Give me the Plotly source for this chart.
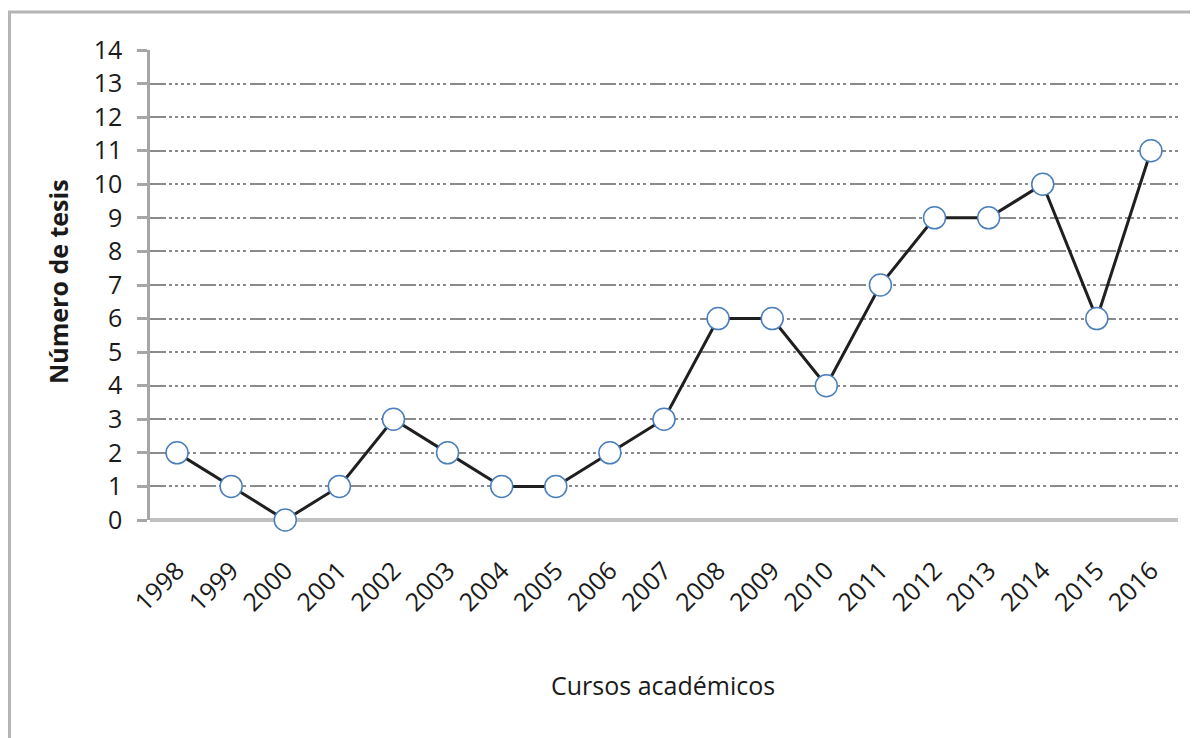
import plotly.graph_objects as go

# Cursos académicos y número de tesis
years = [str(y) for y in range(1998, 2017)]
tesis = [2, 1, 0, 1, 3, 2, 1, 1, 2, 3, 6, 6, 4, 7, 9, 9, 10, 6, 11]
y_ticks = list(range(0, 15))

FONT = "Open Sans, Liberation Sans, sans-serif"
INK = "#1a1a1a"

fig = go.Figure()
fig.add_trace(go.Scatter(
    x=years, y=tesis,
    mode="lines+markers",
    line=dict(color="#1f1f1f", width=3),
    marker=dict(symbol="circle", size=22, color="white",
                line=dict(color="#4a7ebb", width=1.5)),
    showlegend=False,
    cliponaxis=False,
))

# page has 8px body margin; plot area on screen: x 150..1178, y 50..520
L, R, T, B = 142, 20, 42, 218
W, H = 1190, 730
pw, ph = W - L - R, H - T - B

def px(sx):
    return (sx - 8 - L) / pw

def py(sy):
    return (H - B - (sy - 8)) / ph

# marco gris de la captura (izquierda y arriba)
fig.add_shape(type="line", xref="paper", yref="paper",
              x0=px(9.5), x1=px(9.5), y0=py(740), y1=py(12),
              line=dict(color="#b5b5b5", width=3))
fig.add_shape(type="line", xref="paper", yref="paper",
              x0=px(8), x1=px(1198), y0=py(12), y1=py(12),
              line=dict(color="#b5b5b5", width=3))

# títulos de los ejes
fig.add_annotation(text="Cursos académicos", xref="paper", yref="paper",
                   x=px(663), y=py(685), xanchor="center", yanchor="middle",
                   showarrow=False,
                   font=dict(size=25, family=FONT, color=INK))
fig.add_annotation(text="<b>Número de tesis</b>", xref="paper", yref="paper",
                   x=px(58), y=py(282), xanchor="center", yanchor="middle",
                   showarrow=False, textangle=-90,
                   font=dict(size=25, family=FONT, color=INK))

fig.update_layout(
    width=W, height=H,
    margin=dict(l=L, r=R, t=T, b=B),
    paper_bgcolor="white",
    plot_bgcolor="white",
    font=dict(family=FONT, color=INK),
    xaxis=dict(
        type="category",
        range=[-0.5, len(years) - 0.5],
        tickangle=-45,
        tickfont=dict(size=25, family=FONT, color=INK),
        ticklabelstandoff=30,
        showgrid=False,
        showline=False,
        ticks="",
    ),
    yaxis=dict(
        range=[0, 14],
        tickvals=y_ticks,
        tickfont=dict(size=25, family=FONT, color=INK),
        ticklabelstandoff=10,
        showgrid=True,
        gridcolor="#8a8a8a",
        gridwidth=2,
        griddash="16px,3px,3px,3px,3px,3px,3px,3px,3px,3px,3px,4px",
        zeroline=True,
        zerolinecolor="#c0c0c0",
        zerolinewidth=4,
        showline=True,
        linecolor="#a6a6a6",
        linewidth=2.5,
        ticks="outside",
        ticklen=10,
        tickcolor="#a6a6a6",
        tickwidth=2.5,
    ),
)

fig.write_html("out.html")
